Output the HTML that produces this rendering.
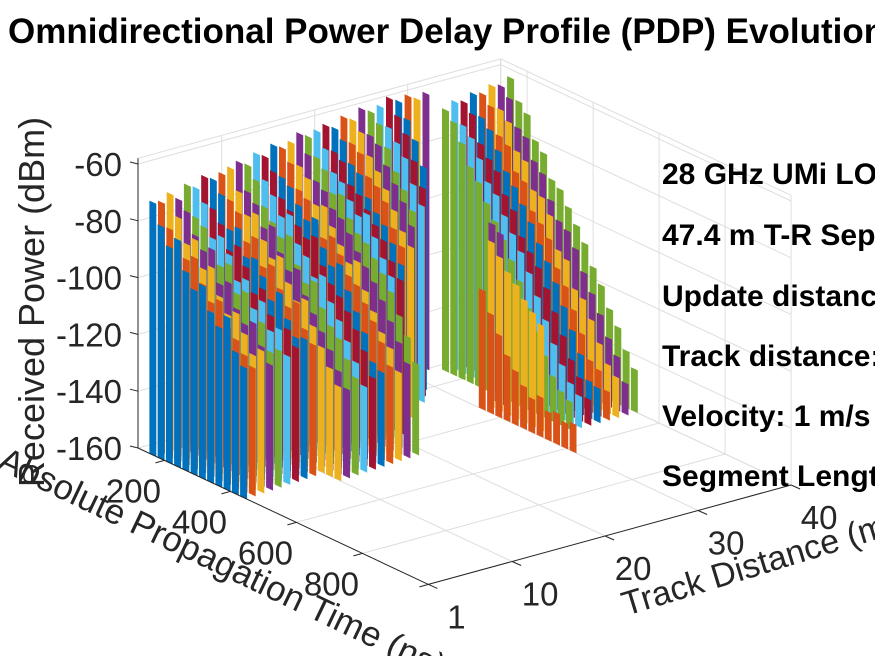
<!DOCTYPE html>
<html><head><meta charset="utf-8"><title>Omnidirectional PDP Evolution</title>
<style>
html,body{margin:0;padding:0;background:#fff;overflow:hidden;}
svg{display:block;font-family:"Liberation Sans",Arial,sans-serif;}
</style></head>
<body>
<svg id="chart" width="875" height="656" viewBox="0 0 875 656" xmlns="http://www.w3.org/2000/svg">
  <rect x="0" y="0" width="875" height="656" fill="#ffffff"/>
  <g id="grid"></g>
  <g id="marks"></g>
  <g id="axes"></g>
  <g id="labels" fill="#262626" font-size="33"></g>
  <text x="8" y="43" font-size="35" font-weight="bold" fill="#000">Omnidirectional Power Delay Profile (PDP) Evolution</text>
  <text transform="translate(44,302) rotate(-90)" text-anchor="middle" font-size="36" fill="#262626">Received Power (dBm)</text>
  <text transform="translate(-4,468) rotate(25.5)" font-size="35" fill="#262626">Absolute Propagation Time (ns)</text>
  <text transform="translate(626,616) rotate(-17)" font-size="34" fill="#262626">Track Distance (m)</text>
  <g font-size="30" font-weight="bold" fill="#000">
    <text x="662" y="184">28 GHz UMi LOS</text>
    <text x="662" y="245">47.4 m T-R Separation</text>
    <text x="662" y="306">Update distance: 1 m</text>
    <text x="662" y="366">Track distance: 40 m</text>
    <text x="662" y="426">Velocity: 1 m/s</text>
    <text x="662" y="486">Segment Length: 40 m</text>
  </g>
</svg>
<script>
// ---- chart data ----
const trackPos = [1,2,3,4,5,6,7,8,9,10,11,12,13,14,15,16,17,18,19,20,21,22,23,24,25,26,27,28,29,30,31,32,33,34,35,36,37,38,39,40];
const firstDelay = [165,163,161,159,157,155,153,151,149,147,145,143,141,139,137,135,133,131,129,127,126,125,124,123,122,122,121,121,121,121,120,119,150,150,150,150,150,150,150,150];
const delayStep = 25;
const tracePowers = [
 [-71,-78,-84,-80,-90,-95,-92,-100,-104,-99,-110,-114],
 [-72,-80,-83,-88,-86,-94,-99,-97,-105,-108,-112,-115],
 [-70,-77,-85,-82,-91,-89,-98,-103,-101,-107,-113,-110],
 [-73,-76,-83,-87,-85,-96,-94,-102,-106,-104,-111,-116],
 [-69,-79,-81,-88,-92,-90,-99,-97,-108,-105,-114,-112],
 [-71,-75,-86,-84,-89,-97,-95,-104,-100,-109,-107,-115],
 [-68,-78,-82,-90,-87,-93,-101,-98,-106,-110,-108,-113],
 [-70,-74,-85,-83,-92,-91,-96,-103,-99,-107,-112,-111],
 [-69,-77,-80,-89,-86,-95,-93,-100,-105,-102,-110,-114],
 [-68,-75,-82,-80,-88,-93,-91,-99,-104,-102,-110,-116,-122,-127],
 [-67,-76,-79,-86,-84,-92,-97,-95,-103,-108,-113,-118,-124,-129],
 [-69,-73,-81,-85,-89,-87,-96,-101,-99,-107,-112,-115,-121,-126],
 [-66,-74,-78,-84,-82,-91,-94,-100,-98,-106,-111,-117,-123,-130],
 [-68,-72,-80,-83,-87,-90,-88,-97,-102,-105,-109,-114,-120,-128],
 [-65,-75,-77,-82,-86,-84,-93,-98,-96,-104,-110,-116,-125,-127],
 [-67,-71,-79,-81,-88,-92,-90,-95,-101,-103,-108,-113,-119,-126],
 [-66,-73,-76,-84,-83,-89,-94,-99,-97,-106,-112,-118,-122,-129],
 [-64,-70,-78,-80,-85,-87,-91,-96,-100,-104,-109,-115,-121,-127],
 [-66,-72,-75,-82,-81,-88,-92,-94,-98,-102,-107,-114,-120,-128],
 [-65,-70,-77,-79,-84,-88,-86,-93,-99,-104],
 [-64,-72,-74,-81,-83,-87,-91,-95,-101,-106],
 [-66,-69,-76,-78,-85,-89,-92,-97,-103],
 [-63,-71,-73,-80,-82,-86,-94,-99],
 [-65,-68,-75,-79,-84,-90,-96,-100],
 [-62,-70,-72,-78,-83,-88,-95],
 [-64,-67,-74,-81,-86,-92],
 [-63,-69,-73,-77,-85,-91],
 [-61,-66,-71,-79,-87],
 [-63,-68,-74,-82],
 [-62,null,null,null,null,null,null,null,null,-118,-125,-131,-137,-141,-145,-148,-146,-150,-149,-151,-150],
 [-64,null,null,null,null,null,null,null,null,-102,-106,-110,-113,-117,-120,-123],
 [-63,null,null,null,null,null,null,null,-98,-100],
 [-68,-71,-77,-84,-88,-94,-99,-104,-110,-116,-124,-131,-138,-144,-148,-150],
 [-66,-73,-76,-82,-89,-92,-98,-103,-108,-114,-121,-128,-135,-141,-146,-149],
 [-67,-70,-79,-83,-86,-93,-97,-105,-109,-113,-119,-126,-133,-140,-145,-151],
 [-65,-72,-75,-81,-87,-91,-96,-101,-107,-112,-118,-125,-132,-139,-147,-148],
 [-66,-69,-78,-80,-88,-90,-99,-102,-106,-115,-120,-127,-134,-142,-144,-150],
 [-64,-71,-74,-83,-85,-94,-95,-100,-111,-113,-122,-124,-130,-137,-143,-146],
 [-65,-68,-77,-79,-86,-89,-97,-103,-105,-110,-117,-123,-129,-136,-141,-149],
 [-63,-70,-73,-81,-84,-92,-94,-99,-104,-109,-116,-121,-128,-133,-140,-145]
];
const zTicks = [-160,-140,-120,-100,-80,-60];
const zTickLabels = ["-160","-140","-120","-100","-80","-60"];
const timeTicks = [200,400,600,800,1000];
const timeTickLabels = ["200","400","600","800",""];
const trackTicks = [1,10,20,30,40];
const trackTickLabels = ["1","10","20","30","40"];
const colors = ["#0072BD","#D95319","#EDB120","#7E2F8E","#77AC30","#4DBEEE","#A2142F"];

// ---- axis functions ----
const S0=1,S1=40,T0=120,T1=1000,Z0=-160,Z1=-58;
function P(s,t,z){
  return [138+(s-1)*9.3+(t-T0)*0.33, 448-(s-1)*2.55+(t-T0)*0.155-(z-Z0)*2.84];
}
const NS="http://www.w3.org/2000/svg";
function line(g,a,b,stroke,name){
  const l=document.createElementNS(NS,"line");
  l.setAttribute("x1",a[0].toFixed(1));l.setAttribute("y1",a[1].toFixed(1));
  l.setAttribute("x2",b[0].toFixed(1));l.setAttribute("y2",b[1].toFixed(1));
  l.setAttribute("stroke",stroke);l.setAttribute("stroke-width","1");
  
  
  g.appendChild(l);
}
const grid=document.getElementById("grid"), marks=document.getElementById("marks"),
      axes=document.getElementById("axes"), labels=document.getElementById("labels");
const gc="#dedede";
trackTicks.forEach(s=>{ if(s>1) line(grid,P(s,T0,Z0),P(s,T0,Z1),gc,"grid-track-back"); });
zTicks.forEach(z=>{ line(grid,P(S0,T0,z),P(S1,T0,z),gc,"grid-z-back"); line(grid,P(S1,T0,z),P(S1,T1,z),gc,"grid-z-side"); });
line(grid,P(S0,T0,Z1),P(S1,T0,Z1),gc,"grid-top-back");
line(grid,P(S1,T0,Z1),P(S1,T1,Z1),gc,"grid-top-side");
line(grid,P(S1,T0,Z0),P(S1,T0,Z1),gc,"grid-corner");
timeTicks.forEach(t=>{ line(grid,P(S1,t,Z0),P(S1,t,Z1),gc,"grid-time-side"); line(grid,P(S0,t,Z0),P(S1,t,Z0),gc,"grid-time-floor"); });
trackTicks.forEach(s=>{ if(s>1) line(grid,P(s,T0,Z0),P(s,T1,Z0),gc,"grid-track-floor"); });

// ---- traces (far to near) ----
for(let i=trackPos.length-1;i>=0;i--){
  const s=trackPos[i], pw=tracePowers[i], col=colors[i%7];
  const g=document.createElementNS(NS,"g");
  
  
  g.setAttribute("fill",col);
  for(let k=0;k<pw.length;k++){
    const p=pw[k]; if(p===null) continue;
    const t=firstDelay[i]+k*delayStep, h=delayStep/2-2;
    const a=P(s,t-h,Z0),b=P(s,t+h,Z0),c=P(s,t+h,p),d=P(s,t-h,p);
    const poly=document.createElementNS(NS,"polygon");
    poly.setAttribute("points",[a,b,c,d].map(q=>q[0].toFixed(1)+","+q[1].toFixed(1)).join(" "));
    
    
    g.appendChild(poly);
  }
  marks.appendChild(g);
}

// ---- axes ----
const ac="#262626";
line(axes,P(S0,T0,Z0),P(S0,T0,Z1),ac,"z-axis-line");
line(axes,P(S0,T0,Z0),P(S0,T1,Z0),ac,"time-axis-line");
line(axes,P(S0,T1,Z0),P(S1,T1,Z0),ac,"track-axis-line");
function text(x,y,str,anchor,name){
  const e=document.createElementNS(NS,"text");
  e.setAttribute("x",x.toFixed(1));e.setAttribute("y",y.toFixed(1));
  e.setAttribute("text-anchor",anchor);
  e.textContent=str;
  
  
  labels.appendChild(e);
}
zTicks.forEach((z,i)=>{
  const a=P(S0,T0,z); line(axes,a,[a[0]-8,a[1]-2],ac,"z-tick");
  text(a[0]-16,a[1]+12,zTickLabels[i],"end","z-tick-label");
});
timeTicks.forEach((t,i)=>{
  const a=P(S0,t,Z0); line(axes,a,[a[0]-9,a[1]+2.5],ac,"time-tick");
  if(timeTickLabels[i]) text(a[0]-31,a[1]+42,timeTickLabels[i],"middle","time-tick-label");
});
trackTicks.forEach((s,i)=>{
  const a=P(s,T1,Z0); line(axes,a,[a[0]+9,a[1]+4],ac,"track-tick");
  text(a[0]+28,a[1]+44,trackTickLabels[i],"middle","track-tick-label");
});
</script>
</body></html>
